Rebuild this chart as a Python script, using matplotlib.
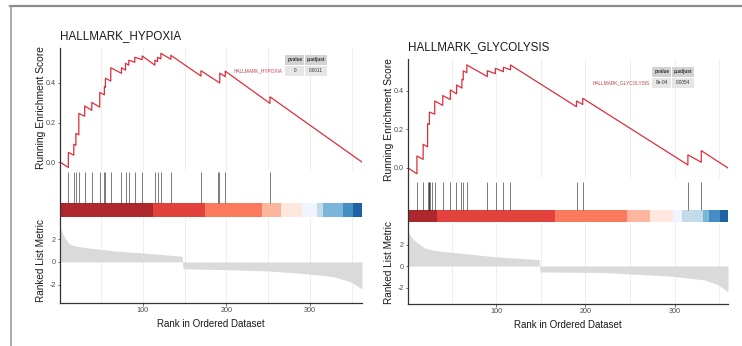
import matplotlib
matplotlib.use("Agg")
import matplotlib.pyplot as plt
from matplotlib.patches import Rectangle
from matplotlib.lines import Line2D

plt.rcParams["font.family"] = ["Liberation Sans Narrow", "Liberation Sans", "DejaVu Sans"]

# ---- data ----
# HALLMARK_HYPOXIA
hyp_n = 362
hyp_es_rank = [1, 11, 11, 17.5, 17.5, 20, 20, 23.5, 23.5, 30.5, 30.5, 39, 39, 48.5, 48.5,
               54, 54, 55.3, 55.3, 61.7, 61.7, 74.5, 74.5, 79.3, 79.3, 83.2, 83.2, 90.4, 90.4,
               99.2, 99.2, 114.4, 114.4, 117.6, 117.6, 121.6, 121.6, 133.5, 133.5, 169.5, 169.5,
               192, 192, 198.5, 198.5, 252, 252, 362]
hyp_es = [0.0, -0.027, 0.049, 0.035, 0.09, 0.085, 0.145, 0.138, 0.246, 0.232, 0.284, 0.262, 0.302,
          0.278, 0.352, 0.340, 0.382, 0.378, 0.424, 0.41, 0.477, 0.449, 0.477, 0.465, 0.50, 0.49,
          0.515, 0.505, 0.53, 0.518, 0.537, 0.49, 0.515, 0.508, 0.53, 0.522, 0.55, 0.52, 0.54,
          0.435, 0.462, 0.40, 0.45, 0.432, 0.46, 0.297, 0.33, 0.0]
hyp_hits = [11, 17.7, 20, 23.4, 30.5, 39.3, 48.5, 53.7, 55.3, 61.7, 74.5, 79.3, 83.2, 90.4,
            99.2, 114.4, 117.6, 121.6, 133.5, 169.5, 190, 191.5, 198.5, 252]
hyp_metric_rank = [1, 3, 5, 8, 12, 20, 40, 70, 100, 147, 148, 208, 250, 288, 328, 348, 362]
hyp_metric = [3.1, 2.7, 2.4, 2.0, 1.6, 1.4, 1.2, 0.95, 0.8, 0.5, -0.6, -0.7, -0.8, -1.0, -1.3, -1.75, -2.4]
hyp_bar_edges = [1, 112, 174, 242, 265, 290, 308, 315, 339, 351, 362]
hyp_pvalue, hyp_padj = "0", "0.0011"

# HALLMARK_GLYCOLYSIS
gly_n = 360
gly_es_rank = [1, 11, 11, 18, 18, 23, 23, 25, 25, 31, 31, 40, 40, 48.5, 48.5, 55.5, 55.5,
               61.5, 61.5, 63, 63, 67, 67, 90, 90, 99, 99, 108, 108, 116, 116, 190, 190,
               197, 197, 315, 315, 330, 330, 360]
gly_es = [0.0, -0.03, 0.062, 0.045, 0.123, 0.11, 0.23, 0.226, 0.29, 0.28, 0.348, 0.325, 0.376,
          0.355, 0.405, 0.385, 0.431, 0.415, 0.461, 0.457, 0.504, 0.495, 0.535, 0.475, 0.505,
          0.49, 0.518, 0.50, 0.523, 0.51, 0.535, 0.318, 0.348, 0.33, 0.362, 0.016, 0.068, 0.03,
          0.09, 0.0]
gly_hits = [11, 18.3, 23, 24, 25, 26, 27.5, 31.5, 40, 48.3, 55, 60.7, 63, 67, 90, 99.6, 108,
            115.7, 190.5, 197.4, 315, 329.6]
gly_metric_rank = [1, 4, 8, 19, 30, 53, 100, 148, 149, 221, 297, 334, 349, 360]
gly_metric = [3.2, 2.8, 2.4, 1.7, 1.45, 1.25, 0.85, 0.6, -0.55, -0.6, -0.95, -1.3, -1.75, -2.4]
gly_bar_edges = [1, 33, 166, 247, 273, 298.5, 308, 332, 339, 350.5, 360]
gly_pvalue, gly_padj = "8e-04", "0.0054"

bar_colors = ["#A50F15", "#DE2D26", "#FB6A4A", "#FCAE91", "#FEE5D9",
              "#EFF3FF", "#BDD7E7", "#6BAED6", "#3182BD", "#08519C"]

W, H = 742, 346
fig = plt.figure(figsize=(W / 100, H / 100), dpi=100)


def box(x0, y0, x1, y1):
    # pixel box (top-left origin) -> figure rect
    return [x0 / W, 1 - y1 / H, (x1 - x0) / W, (y1 - y0) / H]


def fx(x):
    return x / W


def fy(y):
    return 1 - y / H


RED = "#DC2F3C"
GRID = "#EBEBEB"
TICKC = "#4D4D4D"


def style(ax):
    for s in ["top", "right"]:
        ax.spines[s].set_visible(False)
    for s in ["left", "bottom"]:
        ax.spines[s].set_color("#333333")
        ax.spines[s].set_linewidth(0.9)
    ax.tick_params(length=1.8, width=0.5, color="#333333", labelsize=5.2,
                   labelcolor=TICKC, pad=1)


def panel(name, n, es_rank, es, hits, m_rank, m, edges, pval, padj, px):
    x0, x1 = px["x"]
    # running ES
    ax1 = fig.add_axes(box(x0, px["es"][0], x1, px["es"][1]))
    style(ax1)
    ax1.spines["bottom"].set_visible(False)
    for g in range(50, n, 50):
        ax1.axvline(g, color=GRID, lw=0.6, zorder=0)
    ax1.plot(es_rank, es, color=RED, lw=0.9)
    ax1.set_xlim(1, n)
    ax1.set_ylim(*px["es_ylim"])
    ax1.set_yticks([0.0, 0.2, 0.4])
    ax1.set_yticklabels(["0.0", "0.2", "0.4"])
    ax1.set_xticks([])

    # rug + colour bar
    ax2 = fig.add_axes(box(x0, px["rug"][0], x1, px["rug"][1]))
    for s in ["top", "right", "bottom"]:
        ax2.spines[s].set_visible(False)
    ax2.spines["left"].set_color("#333333")
    ax2.spines["left"].set_linewidth(0.9)
    ax2.set_xlim(1, n)
    ax2.set_ylim(0, 1)
    ax2.set_xticks([])
    ax2.set_yticks([])
    bt = px["bar_frac"]
    ax2.vlines(hits, bt, px["rug_top"], color="#222222", lw=0.7, alpha=0.6)
    for i in range(len(edges) - 1):
        ax2.add_patch(Rectangle((edges[i], 0), edges[i + 1] - edges[i], bt,
                                facecolor=bar_colors[i], edgecolor="none", alpha=0.9))

    # ranked list metric
    ax3 = fig.add_axes(box(x0, px["met"][0], x1, px["met"][1]))
    style(ax3)
    for g in range(50, n, 50):
        ax3.axvline(g, color=GRID, lw=0.6, zorder=0)
    ax3.fill_between(m_rank, m, 0, color="#DADADA", lw=0, zorder=1)
    ax3.set_xlim(1, n)
    ax3.set_ylim(*px["met_ylim"])
    ax3.set_yticks([-2, 0, 2])
    ax3.set_yticklabels(["-2", "0", "2"])
    ax3.set_xticks([100, 200, 300])

    # texts
    fig.text(fx(x0), fy(px["title_y"]), name, fontsize=8.4, color="#1A1A1A",
             ha="left", va="center")
    fig.text(fx((x0 + x1) / 2), fy(px["xlab_y"]), "Rank in Ordered Dataset",
             fontsize=7, color="#1A1A1A", ha="center", va="center")
    fig.text(fx(px["ylab_x"]), fy(px["ylab1_y"]), "Running Enrichment Score",
             family=["Liberation Sans", "DejaVu Sans"], fontsize=7.4, rotation=90,
             ha="center", va="center", color="#1A1A1A")
    fig.text(fx(px["ylab_x"]), fy(px["ylab2_y"]), "Ranked List Metric",
             family=["Liberation Sans", "DejaVu Sans"], fontsize=7.2, rotation=90,
             ha="center", va="center", color="#1A1A1A")

    # p-value table
    tx0, tx1, tx2, ty0, ty1, ty2 = px["table"]
    for (a, b, c, d, col) in [(tx0, tx1 - 0.6, ty0, ty1 - 0.5, "#D2D2D2"),
                              (tx1 + 0.6, tx2, ty0, ty1 - 0.5, "#D2D2D2"),
                              (tx0, tx1 - 0.6, ty1 + 0.5, ty2, "#E6E6E6"),
                              (tx1 + 0.6, tx2, ty1 + 0.5, ty2, "#E6E6E6")]:
        fig.patches.append(Rectangle((fx(a), fy(d)), fx(b) - fx(a), fy(c) - fy(d),
                                     transform=fig.transFigure, facecolor=col,
                                     edgecolor="none"))
    hy = fy((ty0 + ty1) / 2)
    vy = fy((ty1 + ty2) / 2)
    fig.text(fx((tx0 + tx1) / 2), hy, "pvalue", fontsize=3.4, weight="bold",
             color="#333333", ha="center", va="center")
    fig.text(fx((tx1 + tx2) / 2), hy, "p.adjust", fontsize=3.4, weight="bold",
             color="#333333", ha="center", va="center")
    fig.text(fx((tx0 + tx1) / 2), vy, pval, fontsize=3.4, color="#333333",
             ha="center", va="center")
    fig.text(fx((tx1 + tx2) / 2), vy, padj, fontsize=3.4, color="#333333",
             ha="center", va="center")
    fig.text(fx(tx0 - 2), vy, name, fontsize=3.4, color="#C0404A",
             ha="right", va="center")


panel("HALLMARK_HYPOXIA", hyp_n, hyp_es_rank, hyp_es, hyp_hits, hyp_metric_rank,
      hyp_metric, hyp_bar_edges, hyp_pvalue, hyp_padj,
      dict(x=(60, 362), es=(48, 170), rug=(170, 217), met=(218, 303),
           es_ylim=(-0.04, 0.577), met_ylim=(-3.64, 3.9), bar_frac=0.3, rug_top=0.95,
           title_y=36, xlab_y=324, ylab_x=41, ylab1_y=108, ylab2_y=261,
           table=(285, 304.5, 327, 55, 65, 76)))

panel("HALLMARK_GLYCOLYSIS", gly_n, gly_es_rank, gly_es, gly_hits, gly_metric_rank,
      gly_metric, gly_bar_edges, gly_pvalue, gly_padj,
      dict(x=(408, 728), es=(59, 178), rug=(178, 222), met=(223, 304),
           es_ylim=(-0.052, 0.566), met_ylim=(-3.53, 4.0), bar_frac=0.27, rug_top=0.92,
           title_y=47, xlab_y=325, ylab_x=389, ylab1_y=120, ylab2_y=263,
           table=(652, 671.5, 694, 67, 77, 88)))

# screenshot frame
fig.lines.append(Line2D([fx(10), 1], [fy(6), fy(6)], transform=fig.transFigure,
                        color="#8C8C8C", lw=1.6))
fig.lines.append(Line2D([fx(10.5), fx(10.5)], [fy(6), 0], transform=fig.transFigure,
                        color="#9A9A9A", lw=1.2))

fig.savefig("out.png", dpi=100)
